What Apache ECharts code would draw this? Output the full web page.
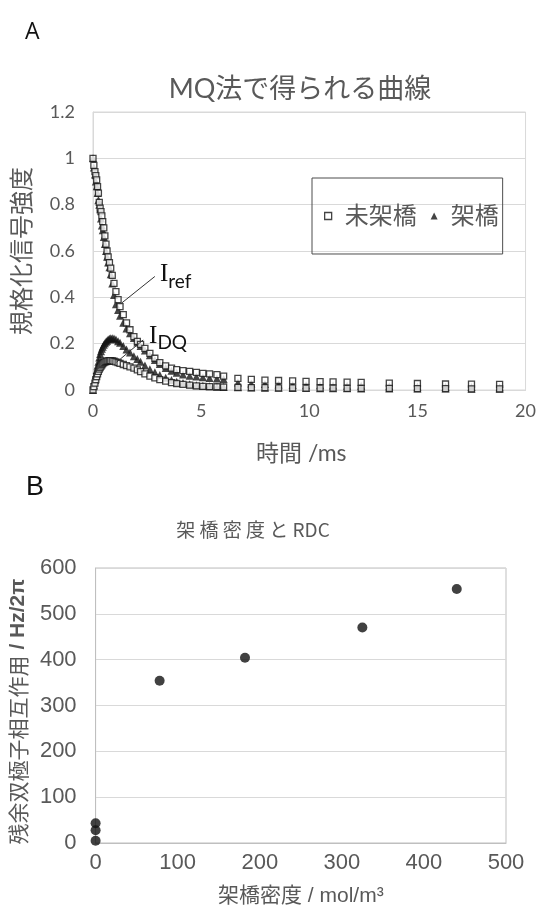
<!DOCTYPE html>
<html>
<head>
<meta charset="utf-8">
<script src="https://cdn.jsdelivr.net/npm/echarts@6/dist/echarts.min.js"></script>
<style>
  html, body { margin: 0; padding: 0; background: #fff; }
  #chart { width: 539px; height: 909px; }
</style>
</head>
<body>
<div id="chart"></div>
<script>
// ---- Panel A: MQ decay / build-up curves (time in ms) ----
const timeMs = [0, 0.04, 0.09, 0.13, 0.17, 0.21, 0.25, 0.29, 0.33, 0.37, 0.41, 0.45, 0.5, 0.55, 0.6, 0.65, 0.7, 0.76, 0.82, 0.89, 0.97, 1.06, 1.16, 1.25, 1.4, 1.55, 1.71, 1.89, 2.05, 2.2, 2.4, 2.63, 2.86, 3.09, 3.36, 3.63, 3.87, 4.16, 4.47, 4.78, 5.08, 5.39, 5.73, 6.04, 6.7, 7.32, 7.95, 8.58, 9.23, 9.85, 10.5, 11.1, 11.75, 12.4, 13.7, 15.0, 16.3, 17.5, 18.8];

const refUncross = [1.0, 0.97, 0.943, 0.925, 0.907, 0.878, 0.85, 0.81, 0.785, 0.77, 0.752, 0.727, 0.70, 0.665, 0.63, 0.6, 0.575, 0.55, 0.526, 0.495, 0.46, 0.425, 0.39, 0.36, 0.325, 0.29, 0.26, 0.23, 0.21, 0.197, 0.18, 0.158, 0.137, 0.118, 0.104, 0.094, 0.088, 0.084, 0.08, 0.076, 0.072, 0.07, 0.066, 0.06, 0.05, 0.046, 0.043, 0.041, 0.039, 0.037, 0.036, 0.035, 0.034, 0.033, 0.03, 0.028, 0.026, 0.025, 0.024];

const dqUncross = [0, 0.015, 0.03, 0.045, 0.058, 0.07, 0.08, 0.09, 0.097, 0.103, 0.109, 0.114, 0.118, 0.121, 0.123, 0.125, 0.126, 0.127, 0.127, 0.126, 0.124, 0.121, 0.118, 0.115, 0.11, 0.105, 0.1, 0.094, 0.087, 0.079, 0.07, 0.06, 0.052, 0.045, 0.038, 0.032, 0.028, 0.024, 0.021, 0.018, 0.016, 0.015, 0.014, 0.013, 0.011, 0.01, 0.01, 0.009, 0.009, 0.008, 0.008, 0.008, 0.007, 0.007, 0.007, 0.006, 0.006, 0.005, 0.005];

const refCross = [1.0, 0.96, 0.93, 0.9, 0.88, 0.85, 0.82, 0.8, 0.78, 0.74, 0.71, 0.69, 0.66, 0.63, 0.6, 0.575, 0.55, 0.53, 0.5, 0.46, 0.41, 0.37, 0.345, 0.32, 0.29, 0.265, 0.245, 0.225, 0.205, 0.19, 0.17, 0.15, 0.13, 0.112, 0.095, 0.083, 0.074, 0.067, 0.062, 0.058, 0.055, 0.052, 0.05, 0.047, 0.032, 0.028, 0.026, 0.024, 0.022, 0.021, 0.02, 0.019, 0.018, 0.018, 0.016, 0.015, 0.014, 0.013, 0.012];

const dqCross = [0, 0.02, 0.043, 0.065, 0.086, 0.105, 0.122, 0.14, 0.155, 0.167, 0.178, 0.187, 0.195, 0.202, 0.208, 0.213, 0.218, 0.221, 0.223, 0.223, 0.222, 0.218, 0.21, 0.204, 0.19, 0.175, 0.162, 0.146, 0.134, 0.122, 0.106, 0.09, 0.077, 0.065, 0.053, 0.043, 0.036, 0.03, 0.025, 0.021, 0.018, 0.016, 0.014, 0.013, 0.012, 0.011, 0.01, 0.01, 0.009, 0.009, 0.008, 0.008, 0.008, 0.007, 0.007, 0.006, 0.006, 0.005, 0.005];

// ---- Panel B: residual dipolar coupling vs crosslink density ----
const crosslinkDensity = [0, 0, 0, 78, 182, 325, 440];
const rdcValues = [43, 28, 5, 354, 404, 470, 554];

const GRAY = '#595959';
const FONT_A = "Lato, 'Noto Sans CJK JP', sans-serif";
const FONT_JP = "'Noto Sans CJK JP', sans-serif";
const FONT_B = "'Liberation Sans', 'Noto Sans CJK JP', sans-serif";

function pairs(xs, ys) { return xs.map((x, i) => [x, ys[i]]); }

const chart = echarts.init(document.getElementById('chart'), null, { renderer: 'canvas' });

const squareStyle = { color: '#ffffff', borderColor: '#151515', borderWidth: 1.3 };
const triStyle = { color: '#151515' };

const option = {
  animation: false,
  backgroundColor: '#ffffff',
  graphic: [
    { type: 'text', left: 25, top: 21, style: { text: 'A', fontSize: 23, fontFamily: "'Open Sans', sans-serif", fill: '#111' } },
    { type: 'text', x: 300, y: 89, style: { text: 'MQ法で得られる曲線', fontSize: 27, fontFamily: FONT_A, fill: GRAY, align: 'center', verticalAlign: 'middle' } },
    { type: 'text', left: 26, top: 474, style: { text: 'B', fontSize: 27, fontFamily: "'Liberation Sans', sans-serif", fill: '#111' } },
    { type: 'text', x: 253, y: 530, style: { text: '架 橋 密 度 と RDC', fontSize: 19, fontFamily: FONT_JP, fill: GRAY, align: 'center', verticalAlign: 'middle' } }
  ],
  legend: {
    data: [
      { name: '未架橋', icon: 'rect', itemStyle: squareStyle },
      { name: '架橋', icon: 'triangle', itemStyle: triStyle }
    ],
    left: 312, top: 178,
    orient: 'horizontal',
    borderColor: '#4d4d4d', borderWidth: 1,
    padding: [26, 4, 26, 12],
    itemWidth: 7, itemHeight: 7, itemGap: 14,
    textStyle: { fontSize: 24, fontFamily: FONT_A, color: GRAY, padding: [0, 0, 0, 8] },
    selectedMode: false
  },
  grid: [
    { left: 93, top: 112, right: 12, bottom: 519, show: true, borderColor: '#d9d9d9', borderWidth: 1, containLabel: false },
    { left: 94, top: 568, right: 33, bottom: 66, show: true, borderColor: '#bfbfbf', borderWidth: 1, containLabel: false }
  ],
  xAxis: [
    {
      gridIndex: 0, type: 'value', min: 0, max: 20, interval: 5,
      name: '時間 /ms', nameLocation: 'middle', nameGap: 52,
      nameTextStyle: { fontSize: 23, fontFamily: FONT_A, color: GRAY, padding: [0, 16, 0, 0] },
      axisLine: { show: true, lineStyle: { color: '#d9d9d9' } },
      axisTick: { show: false },
      splitLine: { show: false },
      axisLabel: { fontSize: 18, fontFamily: FONT_A, color: GRAY, margin: 12 }
    },
    {
      gridIndex: 1, type: 'value', min: 0, max: 500, interval: 100,
      name: '架橋密度 / mol/m³', nameLocation: 'middle', nameGap: 43,
      nameTextStyle: { fontSize: 21, fontFamily: FONT_B, color: GRAY },
      axisLine: { show: true, lineStyle: { color: '#bfbfbf' } },
      axisTick: { show: false },
      splitLine: { show: false },
      axisLabel: { fontSize: 22, fontFamily: FONT_B, color: GRAY, margin: 9 }
    }
  ],
  yAxis: [
    {
      gridIndex: 0, type: 'value', min: 0, max: 1.2, interval: 0.2,
      name: '規格化信号強度', nameLocation: 'middle', nameGap: 59,
      nameTextStyle: { fontSize: 24, fontFamily: FONT_A, color: GRAY },
      axisLine: { show: true, lineStyle: { color: '#d9d9d9' } },
      axisTick: { show: false },
      splitLine: { show: true, lineStyle: { color: '#d9d9d9' } },
      axisLabel: { fontSize: 18, fontFamily: FONT_A, color: GRAY, margin: 18 }
    },
    {
      gridIndex: 1, type: 'value', min: 0, max: 600, interval: 100,
      name: '{c|残余双極子相互作用}{l| / Hz/2π}', nameLocation: 'middle', nameGap: 61,
      nameTextStyle: {
        color: GRAY,
        padding: [0, 12, 0, 0],
        rich: {
          c: { fontSize: 21, fontFamily: FONT_JP, color: GRAY },
          l: { fontSize: 21, fontFamily: "'Liberation Sans', sans-serif", fontWeight: 'bold', color: GRAY }
        }
      },
      axisLine: { show: true, lineStyle: { color: '#bfbfbf' } },
      axisTick: { show: false },
      splitLine: { show: true, lineStyle: { color: '#d9d9d9' } },
      axisLabel: { fontSize: 22, fontFamily: FONT_B, color: GRAY, margin: 19 }
    }
  ],
  series: [
    {
      name: '架橋', type: 'scatter', xAxisIndex: 0, yAxisIndex: 0,
      symbol: 'triangle', symbolSize: 8, itemStyle: triStyle,
      data: pairs(timeMs, refCross), z: 2,
      markLine: {
        silent: true, symbol: ['none', 'none'],
        lineStyle: { color: '#333', width: 1, type: 'solid' },
        label: { show: false },
        data: [
          [{ coord: [1.32, 0.375] }, { coord: [2.86, 0.49] }],
          [{ coord: [1.09, 0.12] }, { coord: [2.32, 0.216] }]
        ]
      },
      markPoint: {
        silent: true, symbol: 'circle', symbolSize: 0,
        label: {
          show: true, position: 'right', distance: 2,
          formatter: p => '{i|I}{s|' + p.name + '}',
          rich: {
            i: { fontSize: 25, fontFamily: "'Liberation Serif', serif", color: '#111', lineHeight: 26, verticalAlign: 'bottom' },
            s: { fontSize: 19, fontFamily: FONT_A, color: '#111', lineHeight: 19, verticalAlign: 'bottom', padding: [0, 0, -4, 0] }
          }
        },
        data: [
          { name: 'ref', coord: [3.0, 0.5] },
          { name: 'DQ', coord: [2.5, 0.235] }
        ]
      }
    },
    {
      name: '架橋', type: 'scatter', xAxisIndex: 0, yAxisIndex: 0,
      symbol: 'triangle', symbolSize: 8, itemStyle: triStyle,
      data: pairs(timeMs, dqCross), z: 2
    },
    {
      name: '未架橋', type: 'scatter', xAxisIndex: 0, yAxisIndex: 0,
      symbol: 'rect', symbolSize: 6, itemStyle: squareStyle,
      data: pairs(timeMs, refUncross), z: 3
    },
    {
      name: '未架橋', type: 'scatter', xAxisIndex: 0, yAxisIndex: 0,
      symbol: 'rect', symbolSize: 6, itemStyle: squareStyle,
      data: pairs(timeMs, dqUncross), z: 3
    },
    {
      name: 'RDC', type: 'scatter', xAxisIndex: 1, yAxisIndex: 1,
      symbol: 'circle', symbolSize: 10, itemStyle: { color: '#111' },
      data: pairs(crosslinkDensity, rdcValues)
    }
  ]
};

chart.setOption(option);
</script>
</body>
</html>
